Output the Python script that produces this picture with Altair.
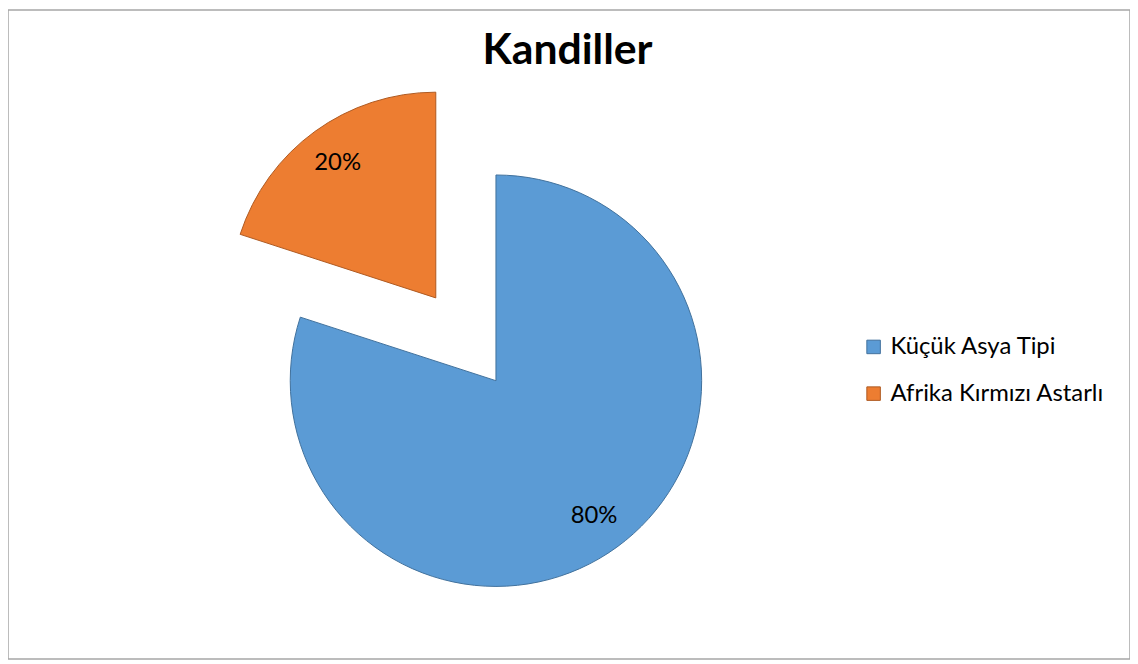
import math
import altair as alt
import pandas as pd

# ---- data ----
categories = ["Küçük Asya Tipi", "Afrika Kırmızı Astarlı"]
values = [80, 20]
labels = ["80%", "20%"]
explode = [0, 103]          # px each slice is pulled out from the centre
fill_colors = ["#5B9BD5", "#ED7D31"]
stroke_colors = ["#41719C", "#AE5A21"]
title_text = "Kandiller"

W, H = 1129, 653
CX, CY = 491, 373
R = 207
LABEL_R = 168
FONT = "Lato"

df = pd.DataFrame({"category": categories, "value": values, "label": labels,
                   "order": list(range(len(categories)))})

total = sum(values)
theta_scale = alt.Scale(domain=[0, total], range=[0, 2 * math.pi])

legend = alt.Legend(title=None, orient="none", legendX=859, legendY=327,
                    symbolType="square", symbolSize=185, symbolStrokeWidth=1,
                    labelFont=FONT, labelFontSize=24, labelColor="#000000",
                    labelOffset=5, rowPadding=23, labelLimit=400)
color = alt.Color("category:N", scale=alt.Scale(domain=categories, range=fill_colors),
                  legend=legend)
stroke = alt.Stroke("category:N", scale=alt.Scale(domain=categories, range=stroke_colors),
                    legend=legend)

base = (alt.Chart(df)
        .transform_stack(stack="value", groupby=[], as_=["start", "end"],
                         sort=[alt.SortField("order", order="ascending")])
        .transform_calculate(mid="(datum.start + datum.end) / 2"))

layers = []
cum = 0
for cat, v, d in zip(categories, values, explode):
    mid_angle = 2 * math.pi * (cum + v / 2) / total
    cum += v
    cx = CX + d * math.sin(mid_angle)
    cy = CY - d * math.cos(mid_angle)
    sub = base.transform_filter(alt.datum.category == cat)
    arc = sub.mark_arc(outerRadius=R, strokeWidth=1).encode(
        theta=alt.Theta("start:Q", scale=theta_scale),
        theta2="end:Q",
        color=color,
        stroke=stroke,
        x=alt.value(cx),
        y=alt.value(cy),
    )
    txt = sub.mark_text(radius=LABEL_R, font=FONT, fontSize=24, color="#000000").encode(
        theta=alt.Theta("mid:Q", scale=theta_scale),
        text="label:N",
        x=alt.value(cx),
        y=alt.value(cy),
    )
    layers += [arc, txt]

title = alt.Chart(pd.DataFrame({"t": [title_text]})).mark_text(
    font=FONT, fontSize=43, fontWeight="bold", color="#000000",
    baseline="alphabetic", align="center"
).encode(text="t:N", x=alt.value(563), y=alt.value(54))

chart = alt.layer(*layers, title).properties(
    width=W, height=H, autosize=alt.AutoSizeParams(type="none"), padding=0
).configure_view(stroke="#A6A6A6", strokeWidth=1.5).configure_legend(
    symbolStrokeWidth=1
)

chart.save("out.html", embed_options={"renderer": "svg", "actions": False})
